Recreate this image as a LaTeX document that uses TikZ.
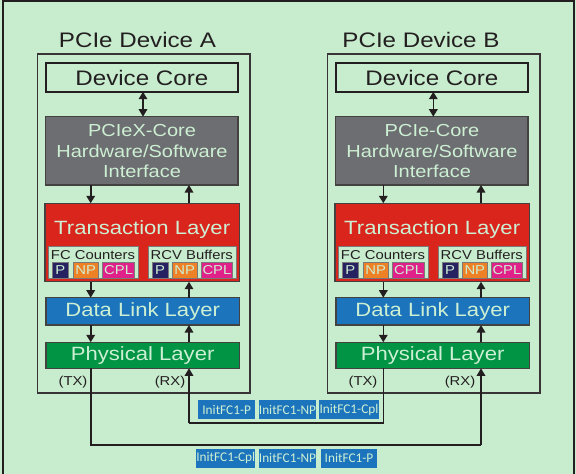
\documentclass[tikz,border=0pt]{standalone}
\usepackage{fontspec}
\setmainfont{Liberation Sans}[FakeStretch=1.15]
\newfontfamily\lblfont{Carlito}
\usetikzlibrary{arrows.meta}
\definecolor{bgc}{HTML}{C8ECCE}
\definecolor{txtc}{HTML}{CDEFD3}
\definecolor{grayc}{HTML}{6D6E71}
\definecolor{redc}{HTML}{DA251D}
\definecolor{bluec}{HTML}{1C75BC}
\definecolor{greenc}{HTML}{009444}
\definecolor{navyc}{HTML}{262262}
\definecolor{orangec}{HTML}{EE8126}
\definecolor{magc}{HTML}{E0218A}
\definecolor{linec}{HTML}{231F20}
\tikzset{
  blk/.style={draw=linec!85, line width=1.2pt, anchor=north west, inner sep=0pt, outer sep=0pt},
  dev/.style={draw=linec!90, line width=1.6pt, anchor=north west, inner sep=0pt},
  sub/.style={draw=linec!60, line width=0.8pt, fill=bgc, anchor=north west, inner sep=0pt},
  tiny/.style={draw=linec!60, line width=0.6pt, anchor=north west, inner sep=0pt, text=txtc, font=\fontsize{12.9}{13}\selectfont, minimum height=15.4pt},
  arr/.style={line width=1.6pt, draw=linec, -{Triangle[width=8.5pt,length=7.5pt]}},
  darr/.style={line width=1.6pt, draw=linec, {Triangle[width=8.5pt,length=7.5pt]}-{Triangle[width=8.5pt,length=7.5pt]}},
  wire/.style={line width=1.6pt, draw=linec},
  fc/.style={fill=bluec, text=txtc, inner sep=0pt, minimum height=19.5pt, font=\lblfont\fontsize{13.3}{14}\selectfont},
  lyr/.style={text=txtc, font=\fontsize{19.2}{20}\selectfont},
  sm/.style={text=linec, font=\fontsize{12.9}{13}\selectfont}
}
% #1 suffix, #2 shift, #3 title, #4 iface first line, #5 title x, #6 down x, #7 up x, #8 dc x
\newcommand\pciedev[8]{%
\begin{scope}[xshift=#2]
  \node[text=linec, font=\fontsize{21}{22}\selectfont] (title#1) at (#5,40) {#3};
  \node[dev, minimum width=212.3pt, minimum height=338.7pt] (dev#1) at (36.7,53.3) {};
  \node[blk, draw=linec, line width=1.8pt, fill=bgc, minimum width=192.3pt, minimum height=28.4pt, font=\fontsize{21}{22}\selectfont, text=linec] (core#1) at (45.7,63.3) {Device Core};
  \node[blk, fill=grayc, minimum width=192.3pt, minimum height=68.3pt] (if#1) at (45.7,116.7) {};
  \node[lyr, font=\fontsize{17.4}{20.7}\selectfont, align=center] (ift#1) at (142,151.3) {#4\\Hardware/Software\\Interface};
  \node[blk, fill=redc, minimum width=194.3pt, minimum height=78.4pt] (tr#1) at (45,203.3) {};
  \node[lyr] (trt#1) at (142.2,229.5) {Transaction Layer};
  \node[sub, minimum width=89.4pt, minimum height=32.6pt] (fcb#1) at (48.3,245.7) {};
  \node[sm] (fct#1) at (93,255) {FC Counters};
  \node[sub, minimum width=88.3pt, minimum height=32.6pt] (rcb#1) at (147.7,245.7) {};
  \node[sm] (rct#1) at (191.8,255) {RCV Buffers};
  \node[tiny, fill=navyc, minimum width=16.6pt] (p1#1) at (51.7,262.3) {P};
  \node[tiny, fill=orangec, minimum width=25.6pt] (np1#1) at (72.7,262.3) {NP};
  \node[tiny, fill=magc, minimum width=32pt] (c1#1) at (102.3,262.3) {CPL};
  \node[tiny, fill=navyc, minimum width=16pt] (p2#1) at (151.7,262.3) {P};
  \node[tiny, fill=orangec, minimum width=25.6pt] (np2#1) at (171.7,262.3) {NP};
  \node[tiny, fill=magc, minimum width=31.3pt] (c2#1) at (201,262.3) {CPL};
  \node[blk, fill=bluec, minimum width=193.3pt, minimum height=27.3pt, lyr] (dll#1) at (46,297.7) {Data Link Layer};
  \node[blk, fill=greenc, minimum width=193.3pt, minimum height=26pt, lyr] (phy#1) at (46,342.3) {Physical Layer};
  \node[sm] (tx#1) at (73,382) {(TX)};
  \node[sm] (rx#1) at (170,382) {(RX)};
  \coordinate (dn#1) at (#6,0);
  \coordinate (up#1) at (#7,0);
  \coordinate (dc#1) at (#8,0);
  \draw[darr] (core#1.south -| dc#1) -- (if#1.north -| dc#1);
  \draw[arr] (if#1.south -| dn#1) -- (tr#1.north -| dn#1);
  \draw[arr] (tr#1.north -| up#1) -- (if#1.south -| up#1);
  \draw[arr] (tr#1.south -| dn#1) -- (dll#1.north -| dn#1);
  \draw[arr] (dll#1.north -| up#1) -- (tr#1.south -| up#1);
  \draw[arr] (dll#1.south -| dn#1) -- (phy#1.north -| dn#1);
  \draw[arr] (phy#1.north -| up#1) -- (dll#1.south -| up#1);
\end{scope}}
\begin{document}
\begin{tikzpicture}[x=1pt,y=-1pt]
  \fill[bgc] (0,0) rectangle (576,474);
  \useasboundingbox (0,0) rectangle (576,474);
  \draw[line width=1.4pt, draw=linec] (3,474) -- (3,1) -- (574,1) -- (574,474);
  \pciedev{A}{0pt}{PCIe Device A}{PCIeX-Core}{137.5}{90.7}{189}{143}
  \pciedev{B}{290pt}{PCIe Device B}{PCIe-Core}{131}{93.3}{191}{143.3}
  \coordinate (lowY) at (0,445);
  \coordinate (midY) at (0,423);
  \draw[wire] (phyA.south -| dnA) -- (lowY -| dnA) -- (lowY -| upB);
  \draw[arr] (lowY -| upB) -- (phyB.south -| upB);
  \draw[wire] (phyB.south -| dnB) -- (midY -| dnB) -- (midY -| upA);
  \draw[arr] (midY -| upA) -- (phyA.south -| upA);
  \node[fc, minimum width=56.7pt] (u1) at (226.7,409.7) {InitFC1-P};
  \node[fc, minimum width=55pt] (u2) at (287.5,409.7) {InitFC1-NP};
  \node[fc, minimum width=60pt] (u3) at (349,409.7) {InitFC1-Cpl};
  \node[fc, minimum width=58.3pt] (l1) at (225.8,458.3) {InitFC1-Cpl};
  \node[fc, minimum width=55pt] (l2) at (287.5,458.3) {InitFC1-NP};
  \node[fc, minimum width=56.6pt] (l3) at (349,458.3) {InitFC1-P};
\end{tikzpicture}
\end{document}
